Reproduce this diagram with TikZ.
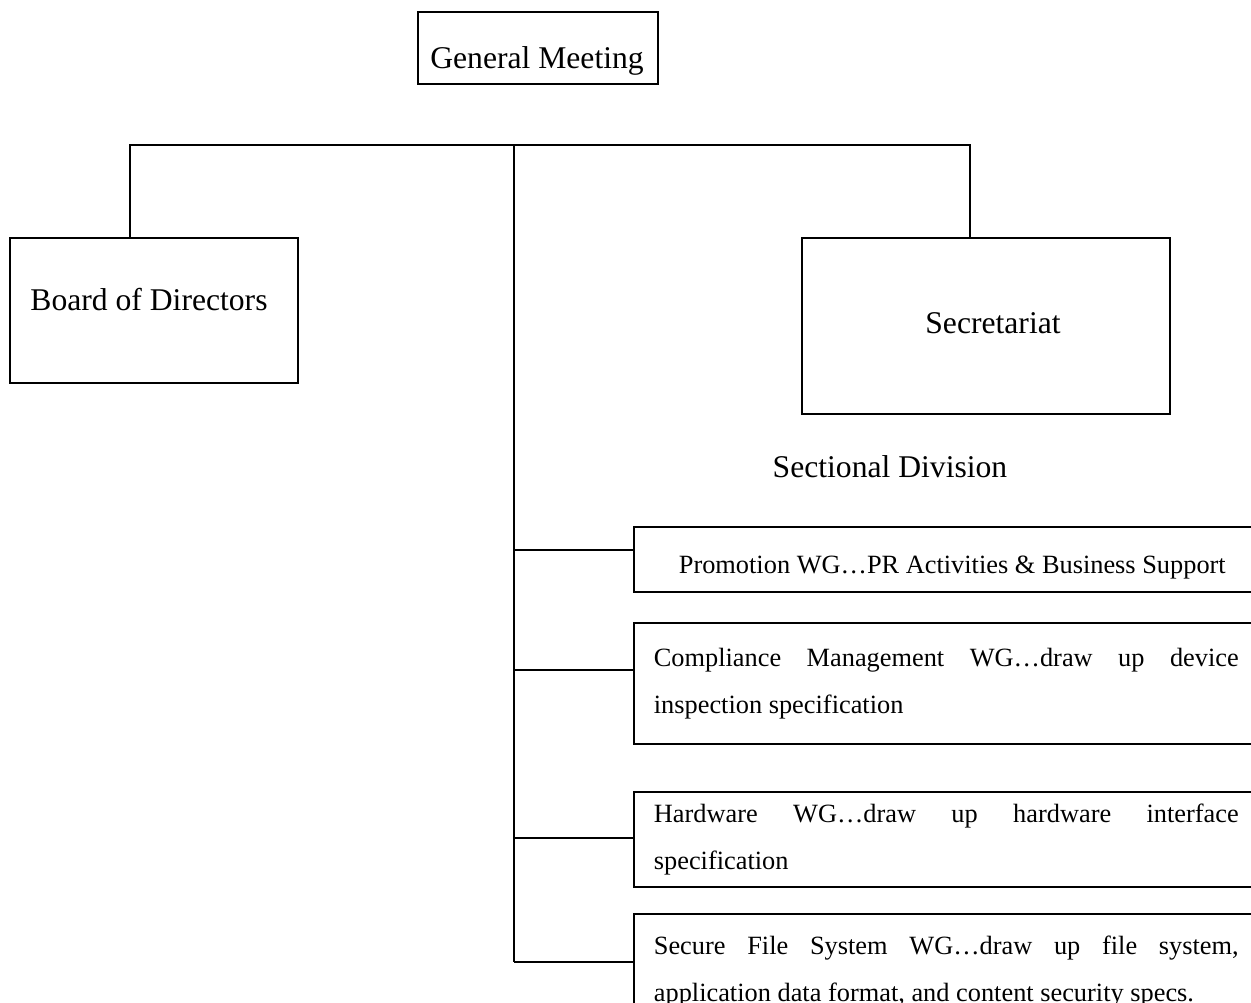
\documentclass[tikz,border=0pt]{standalone}
\usepackage{fontspec}
\setmainfont{Liberation Serif}

\begin{document}
\begin{tikzpicture}	[
		x = 0.02cm,
		y = -0.02cm,
		line width = 1pt,
		box/.style = {
			draw,
			rectangle,
			inner sep = 0pt
		},
		big/.style = {
			font = \fontsize{18}{22}\selectfont
		},
		small/.style = {
			font = \fontsize{15}{27.3}\selectfont
		},
		wg/.style = {
			small,
			anchor = base west,
			text width = 11.7cm,
			align = justify,
			inner sep = 0pt
		}
	]
	\useasboundingbox (0,0) rectangle (1251,1003);
	\clip (0,0) rectangle (1251,1003);

	\node [box, minimum width=4.8cm, minimum height=1.44cm] (gm) at (538,48){};
	\node [big] at (537,61) {General Meeting};

	\node [box, minimum width=5.76cm, minimum height=2.9cm] (bod) at (154,310.5){};
	\node [big] at (149,300) {Board of Directors};

	\node [box, minimum width=7.36cm, minimum height=3.52cm] (sec) at (986,326){};
	\node [big] at (993,323) {Secretariat};

	\node [big] (div) at (890,467) {Sectional Division};

	% working groups
	\node [box, minimum width=12.6cm, minimum height=1.3cm, anchor=north west] (prom) at (633,526){};
	\node [small, anchor=base west, inner sep=0pt] at (678,573) {Promotion WG…PR Activities \& Business Support};

	\node [box, minimum width=12.6cm, minimum height=2.42cm, anchor=north west] (comp) at (633,622){};
	\node [wg] at (653,666) {Compliance Management WG…draw up device\linebreak inspection specification};

	\node [box, minimum width=12.6cm, minimum height=1.9cm, anchor=north west] (hw) at (633,791){};
	\node [wg] at (653,822) {Hardware WG…draw up hardware interface\linebreak specification};

	\node [box, minimum width=12.6cm, minimum height=2.2cm, anchor=north west] (sfs) at (633,913){};
	\node [wg] at (653,954) {Secure File System WG…draw up file system,\linebreak application data format, and content security specs.};

	% bus lines
	\coordinate (bl) at (130,145);
	\coordinate (bm) at (514,145);
	\coordinate (br) at (970,145);

	\draw (bod.north -| bl) -- (bl) -- (br) -- (sec.north -| br);
	\draw (bm) -- (bm |- 0,962);
	\draw (bm |- 0,550) -- (prom.west |- 0,550);
	\draw (bm |- 0,670) -- (comp.west |- 0,670);
	\draw (bm |- 0,838) -- (hw.west |- 0,838);
	\draw (bm |- 0,962) -- (sfs.west |- 0,962);
\end{tikzpicture}
\end{document}
